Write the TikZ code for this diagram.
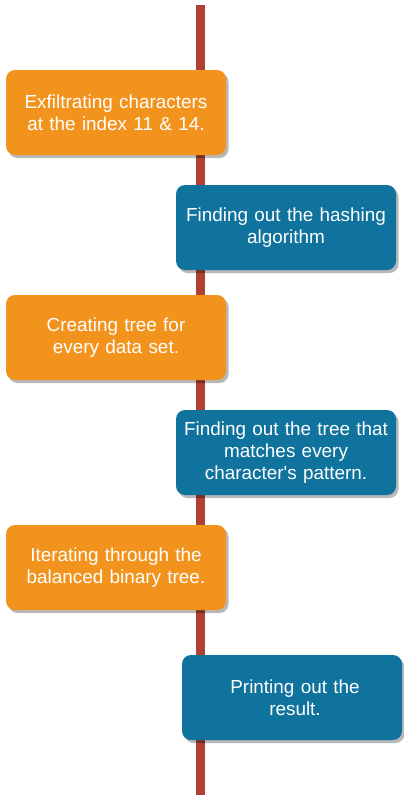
\documentclass[tikz,border=0pt]{standalone}
\usepackage{fontspec}
\setmainfont{Liberation Sans}
\usetikzlibrary{shadows}
\definecolor{stageorange}{HTML}{F2931E}
\definecolor{stageblue}{HTML}{10739E}
\definecolor{axisred}{HTML}{AE4132}
\begin{document}
\begin{tikzpicture}[x=1pt,y=-1pt,
  stagebox/.style={rectangle, rounded corners=9pt, draw=none,
    minimum width=220pt, minimum height=85pt, inner sep=0pt,
    text=white, align=center, text width=214pt,
    font=\fontsize{18.9}{22.3}\selectfont,
    drop shadow={shadow xshift=2.5pt, shadow yshift=-3pt, opacity=0.28, fill=black}},
  leftbox/.style={stagebox, fill=stageorange},
  rightbox/.style={stagebox, fill=stageblue},
  axis/.style={draw=axisred, line width=9pt}]
  \useasboundingbox (0,0) rectangle (404,800);
  % timeline axis
  \coordinate (top) at (200.5,5);
  \coordinate (bottom) at (200.5,795);
  \draw[axis] (top) -- (bottom);
  % stages
  \node[leftbox]  (s1) at (116,112.5) {Exfiltrating characters\\at the index 11 \& 14.\\[2pt]};
  \node[rightbox] (s2) at (286,227.5) {Finding out the hashing\\algorithm\\[11pt]};
  \node[leftbox]  (s3) at (116,337.5) {Creating tree for\\every data set.\\[2pt]};
  \node[rightbox] (s4) at (286,452.5) {Finding out the tree that\\matches every\\character\textquotesingle s pattern.};
  \node[leftbox]  (s5) at (116,567.5) {Iterating through the\\balanced binary tree.\\[-2pt]};
  \node[rightbox] (s6) at (292,697.5) {\hspace*{6pt}Printing out the\\\hspace*{6pt}result.};
\end{tikzpicture}
\end{document}
